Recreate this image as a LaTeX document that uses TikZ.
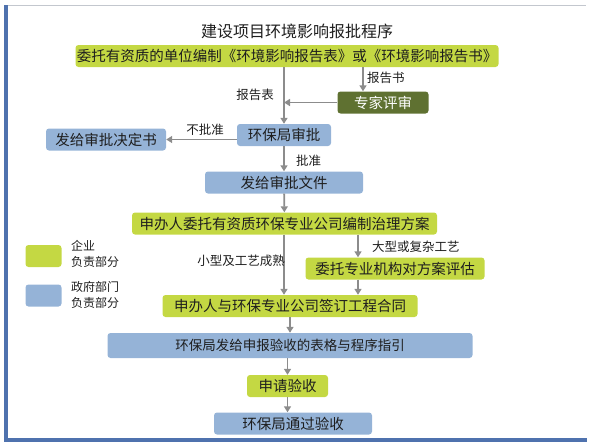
\documentclass[tikz,border=0pt]{standalone}
\usepackage{fontspec}
\usepackage{tikz}
\usetikzlibrary{arrows.meta}
\newfontfamily\cjk{Noto Sans CJK SC}
\definecolor{qiye}{HTML}{C4D843}
\definecolor{zhengfu}{HTML}{95B3D7}
\definecolor{zhuanjia}{HTML}{5F7131}
\definecolor{jiantou}{HTML}{8C8C8C}
\definecolor{kuang}{HTML}{4F72AE}
\definecolor{dingbian}{HTML}{C3C7CE}
\definecolor{wenzi}{HTML}{1E1E1E}

\begin{document}
\begin{tikzpicture}[x=1pt,y=-1pt,
  box/.style={rounded corners=3pt,inner sep=0pt,minimum height=22pt,text=wenzi,font=\cjk\fontsize{14.5}{16}\selectfont},
  qbox/.style={box,fill=qiye},
  zbox/.style={box,fill=zhengfu},
  lbl/.style={inner sep=0pt,text=wenzi,font=\cjk\fontsize{12.5}{14}\selectfont},
  arr/.style={draw=jiantou,line width=1.8pt,-{Triangle[length=6pt,width=7pt]}}]
\useasboundingbox (0,0) rectangle (593,447);
% frame
\draw[dingbian,line width=1pt] (6,5) -- (586,5);
\draw[kuang,line width=3.5pt] (6,5) -- (6,440) -- (587,440);
\node[font=\cjk\fontsize{16}{18}\selectfont,text=wenzi] (biaoti) at (297,31) {建设项目环境影响报批程序};
% steps
\node[qbox,minimum width=423pt] (weituo) at (287,56) {委托有资质的单位编制《环境影响报告表》或《环境影响报告书》};
\node[box,fill=zhuanjia,text=white,minimum width=91pt] (zhuanjia) at (383,102.5) {专家评审};
\node[zbox,minimum width=94pt] (shenpi) at (284,135) {环保局审批};
\node[zbox,minimum width=120pt] (jueding) at (106,139.5) {发给审批决定书};
\node[zbox,minimum width=158pt] (wenjian) at (284,182.5) {发给审批文件};
\node[qbox,minimum width=305pt] (fangan) at (284.5,223.5) {申办人委托有资质环保专业公司编制治理方案};
\node[qbox,minimum width=179pt] (pinggu) at (395,268.5) {委托专业机构对方案评估};
\node[qbox,minimum width=255pt] (hetong) at (290,306) {申办人与环保专业公司签订工程合同};
\node[zbox,minimum width=365pt,minimum height=25pt,font=\cjk\fontsize{13.5}{15}\selectfont] (zhiyin) at (290,345.5) {环保局发给申报验收的表格与程序指引};
\node[qbox,minimum width=81pt] (shenqing) at (287.5,386) {申请验收};
\node[zbox,minimum width=158pt] (tongguo) at (293,423.5) {环保局通过验收};
% arrows
\coordinate (shu) at (363,0);
\coordinate (da) at (358,0);
\draw[arr] (weituo.south -| shenpi.north) -- (shenpi.north);
\draw[arr] (weituo.south -| shu) -- (zhuanjia.north -| shu);
\draw[arr] (zhuanjia.west) -- (zhuanjia.west -| shenpi.north);
\draw[arr] (shenpi.west |- jueding) -- (jueding.east);
\draw[arr] (shenpi) -- (wenjian);
\draw[arr] (wenjian) -- (fangan);
\draw[arr] (fangan.south -| shenpi) -- (hetong.north -| shenpi);
\draw[arr] (fangan.south -| da) -- (pinggu.north -| da);
\draw[arr] (pinggu.south -| da) -- (hetong.north -| da);
\draw[arr] (hetong) -- (zhiyin);
\draw[arr] (zhiyin.south -| shenqing) -- (shenqing);
\draw[arr] (shenqing.south) -- (shenqing.south |- tongguo.north);
% labels
\node[lbl,anchor=east] (baogaobiao) at (274,95) {报告表};
\node[lbl,anchor=west] (baogaoshu) at (367,78) {报告书};
\node[lbl] (bupizhun) at (205,130) {不批准};
\node[lbl,anchor=west] (pizhun) at (296,161) {批准};
\node[lbl,anchor=east] (xiaoxing) at (285,261) {小型及工艺成熟};
\node[lbl,anchor=west] (daxing) at (372,247) {大型或复杂工艺};
% legend
\node[fill=qiye,rounded corners=3pt,minimum width=36pt,minimum height=22pt] (tuli1) at (43.5,256) {};
\node[fill=zhengfu,rounded corners=3pt,minimum width=36pt,minimum height=22pt] (tuli2) at (43.5,295.5) {};
\node[lbl,anchor=west,align=left,font=\cjk\fontsize{12}{15.5}\selectfont] (qiyezi) at (71,254) {企业\\负责部分};
\node[lbl,anchor=west,align=left,font=\cjk\fontsize{12}{15.5}\selectfont] (zhengfuzi) at (71,295) {政府部门\\负责部分};
\end{tikzpicture}
\end{document}
